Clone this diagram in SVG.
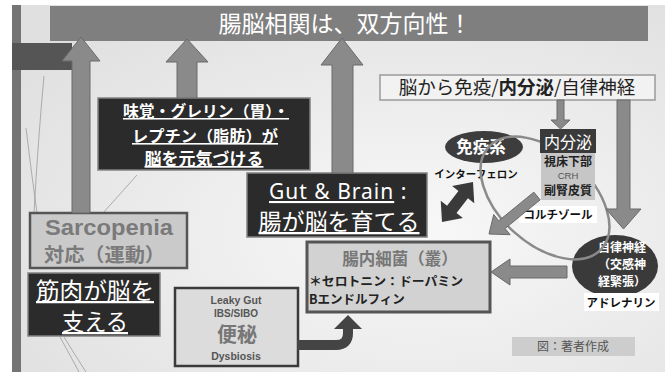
<svg xmlns="http://www.w3.org/2000/svg" width="665" height="372" viewBox="0 0 665 372">
<defs>
<radialGradient id="bg" cx="0.62" cy="0.62" r="0.75">
<stop offset="0" stop-color="#f8f8f8"/>
<stop offset="1" stop-color="#e0e0e0"/>
</radialGradient>
<style>
.jp{font-family:"Noto Sans CJK JP","Noto Sans",sans-serif}
.lat{font-family:"Liberation Sans","Noto Sans",sans-serif}
.b{font-weight:bold}
.w{fill:#ffffff}
.u{text-decoration:underline}
.mid{text-anchor:middle}
.arrow{fill:#8a8a8a;stroke:#6a6a6a;stroke-width:1}
.dark{fill:#2b2b2b;stroke:#828282;stroke-width:1.5}
.deco{fill:none;stroke:#9c9c9c;stroke-width:0.8}
.lbl{fill:#111111;font-size:11.5px}
</style>
</defs>

<!-- background -->
<rect x="0" y="0" width="665" height="372" fill="#ffffff"/>
<rect x="12" y="5" width="653" height="367" fill="url(#bg)"/>
<rect x="12" y="5" width="9" height="367" fill="#747474"/>
<rect x="12" y="43" width="60" height="27" fill="#555555"/>
<path class="deco" d="M44 76 Q38 140 34 213"/>
<path class="deco" d="M26 128 Q31 170 37 213"/>
<path class="deco" d="M103 213 L137 175"/>
<path class="deco" d="M60 337 Q70 355 79 372"/>
<path class="deco" d="M64 337 Q75 355 86 372"/>

<!-- title -->
<g id="title">
<rect x="50" y="6" width="598" height="35" fill="#7f7f7f"/>
<text class="jp w mid" x="345" y="32" font-size="23">腸脳相関は、双方向性！</text>
</g>

<!-- nodes -->
<g id="brain-to-body">
<rect x="380" y="75" width="275" height="25" fill="#f2f2f2" stroke="#9a9a9a" stroke-width="1.5"/>
<text class="jp mid" x="517" y="94" font-size="18.5" fill="#222">脳から免疫/<tspan class="b">内分泌</tspan>/自律神経</text>
</g>

<g id="taste">
<rect class="dark" x="98" y="98" width="212" height="72"/>
<text class="jp b w u mid" x="206" y="117" font-size="15.5" textLength="166" lengthAdjust="spacingAndGlyphs">味覚・グレリン（胃）・</text>
<text class="jp b w u mid" x="205" y="142" font-size="16" textLength="146" lengthAdjust="spacingAndGlyphs">レプチン（脂肪）が</text>
<text class="jp b w u mid" x="204" y="165" font-size="17">脳を元気づける</text>
</g>

<g id="gut-brain">
<rect class="dark" x="247" y="173" width="180" height="64"/>
<text class="w" x="269" y="199" font-size="21" font-family="'Noto Sans','Liberation Sans',sans-serif" letter-spacing="1"><tspan class="u">Gut &amp; Brain</tspan> :</text>
<text class="jp w u mid" x="339" y="230" font-size="23">腸が脳を育てる</text>
</g>

<g id="sarcopenia">
<rect x="30" y="213" width="157" height="55" fill="#cacaca" stroke="#555" stroke-width="2.5"/>
<text class="lat b" x="45" y="235" font-size="22.5" fill="#7a7a7a" textLength="128" lengthAdjust="spacingAndGlyphs">Sarcopenia</text>
<text class="jp b" x="44" y="262" font-size="19" fill="#7a7a7a" textLength="121" lengthAdjust="spacingAndGlyphs">対応（運動）</text>
</g>

<g id="muscle">
<rect class="dark" x="28" y="273" width="132" height="63"/>
<text class="jp w u mid" x="95" y="299" font-size="22.5" textLength="118" lengthAdjust="spacingAndGlyphs">筋肉が脳を</text>
<text class="jp w u mid" x="95" y="330" font-size="22.5" textLength="66" lengthAdjust="spacingAndGlyphs">支える</text>
</g>

<g id="leaky-gut">
<rect x="175" y="288" width="123" height="78" fill="#dcdcdc" stroke="#3a3a3a" stroke-width="2.5"/>
<text class="lat b mid" x="236" y="304" font-size="10.5" fill="#555">Leaky Gut</text>
<text class="lat b mid" x="236" y="317" font-size="10" fill="#555">IBS/SIBO</text>
<text class="jp b mid" x="237" y="342" font-size="20" fill="#777">便秘</text>
<text class="lat b mid" x="236" y="360" font-size="10.5" fill="#555">Dysbiosis</text>
</g>

<g id="microbiota">
<rect x="307" y="242" width="183" height="70" fill="#d2d2d2" stroke="#555" stroke-width="3"/>
<text class="jp b mid" x="400" y="265" font-size="16.5" fill="#777">腸内細菌（叢）</text>
<text class="jp b" x="309" y="286" font-size="12.5" fill="#222" textLength="154" lengthAdjust="spacingAndGlyphs">＊セロトニン：ドーパミン</text>
<text class="jp b" x="309" y="304" font-size="12.5" fill="#222">Bエンドルフィン</text>
</g>

<g id="immune">
<ellipse cx="484" cy="147" rx="39" ry="16" fill="#3d3d3d"/>
<text class="jp b w mid" x="481" y="153" font-size="16.5">免疫系</text>
<text class="jp b mid" x="476" y="178" font-size="10.5" fill="#111">インターフェロン</text>
</g>

<g id="autonomic">
<ellipse cx="615" cy="266" rx="43" ry="31" fill="#3a3a3a"/>
<text class="jp b w mid" x="622" y="252" font-size="12">自律神経</text>
<text class="jp b w mid" x="622" y="269" font-size="12">（交感神</text>
<text class="jp b w mid" x="622" y="286" font-size="12">経緊張）</text>
<rect x="584" y="293" width="75" height="18" fill="#ffffff"/>
<text class="jp b mid lbl" x="621" y="307">アドレナリン</text>
</g>

<g id="cycle">
<ellipse cx="545" cy="198" rx="76" ry="46" transform="rotate(42 545 198)" fill="none" stroke="#8a8a8a" stroke-width="2.5"/>
</g>

<g id="endocrine">
<rect x="540" y="129" width="56" height="24" fill="#3a3a3a"/>
<rect x="541" y="153" width="54" height="47" fill="#c6c6c6"/>
<text class="jp w mid" x="568" y="148" font-size="16">内分泌</text>
<text class="jp b mid" x="568" y="166" font-size="12" fill="#222">視床下部</text>
<text class="lat mid" x="568" y="179" font-size="9.5" fill="#555">CRH</text>
<text class="jp b mid" x="568" y="195" font-size="12" fill="#222">副腎皮質</text>
</g>

<g id="cortisol">
<rect x="519" y="206" width="78" height="17" fill="#ffffff"/>
<text class="jp b mid lbl" x="558" y="219">コルチゾール</text>
</g>

<g id="credit">
<rect x="512" y="337" width="123" height="19" fill="#cdcdcd"/>
<text class="jp mid" x="573" y="351" font-size="12" fill="#555">図：著者作成</text>
</g>

<!-- connectors -->
<g id="connectors">
<polygon class="arrow" points="81,37 100,61 90,61 90,213 72,213 72,61 62,61"/>
<polygon class="arrow" points="187,39 208,62 197,62 197,98 177,98 177,62 166,62"/>
<polygon class="arrow" points="342,38 363,65 353,65 353,173 332,173 332,65 321,65"/>
<polygon class="arrow" points="560.5,129 570,120 564,120 564,100 557,100 557,120 551,120"/>
<polygon class="arrow" points="623.5,229 641,209 630,209 630,100 617,100 617,209 606,209"/>
<polygon class="arrow" points="491,272 510,259 510,266 567,266 567,278 510,278 510,285"/>
<polygon class="arrow" points="540.16,199.87 505.10,228.49 510.16,234.69 489,234 493.72,214.55 498.78,220.75 533.84,192.13"/>
<polygon fill="#3a3a3a" points="442,222 462.87,217.93 456.54,213.03 467.94,198.33 474.27,203.23 473,182 452.13,186.07 458.46,190.97 447.06,205.67 440.73,200.77"/>
<path d="M297 345 H336 Q348 345 348 333 V327" fill="none" stroke="#444" stroke-width="10"/>
<polygon fill="#444" points="348,315 362,329 334,329"/>
</g>
</svg>
